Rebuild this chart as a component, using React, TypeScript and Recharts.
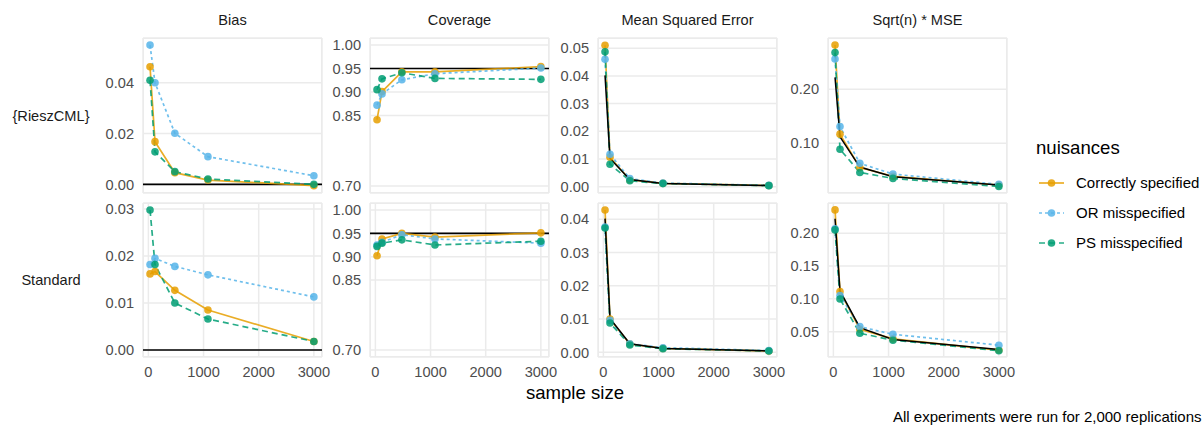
import { LineChart, Line, XAxis, YAxis, CartesianGrid, ReferenceLine } from "recharts";

const sampleSizes = [30, 120, 480, 1080, 3000];
const xTicks = [0, 1000, 2000, 3000];

// {RieszCML} row
const rieszBiasCorrect = [0.0463, 0.0168, 0.0046, 0.0017, -0.0005];
const rieszBiasOR = [0.0548, 0.04, 0.0201, 0.0109, 0.0034];
const rieszBiasPS = [0.041, 0.0128, 0.005, 0.0021, 0.0];
const rieszCovCorrect = [0.841, 0.901, 0.943, 0.943, 0.954];
const rieszCovOR = [0.872, 0.896, 0.926, 0.939, 0.951];
const rieszCovPS = [0.905, 0.928, 0.941, 0.929, 0.927];
const rieszMseCorrect = [0.0511, 0.0106, 0.0025, 0.0012, 0.0004];
const rieszMseOR = [0.046, 0.0117, 0.0029, 0.0013, 0.00044];
const rieszMsePS = [0.0487, 0.0081, 0.0021, 0.0011, 0.00035];
const rieszRootCorrect = [0.282, 0.117, 0.055, 0.039, 0.0228];
const rieszRootOR = [0.256, 0.131, 0.063, 0.043, 0.024];
const rieszRootPS = [0.268, 0.089, 0.046, 0.035, 0.02];

// Standard row
const stdBiasCorrect = [0.0162, 0.0167, 0.0127, 0.0085, 0.0018];
const stdBiasOR = [0.0182, 0.0195, 0.0178, 0.016, 0.0113];
const stdBiasPS = [0.0298, 0.0182, 0.01, 0.0066, 0.0018];
const stdCovCorrect = [0.902, 0.938, 0.95, 0.942, 0.951];
const stdCovOR = [0.925, 0.931, 0.947, 0.938, 0.929];
const stdCovPS = [0.922, 0.929, 0.936, 0.925, 0.933];
const stdMseCorrect = [0.0428, 0.01, 0.0025, 0.0012, 0.0004];
const stdMseOR = [0.0377, 0.0096, 0.0026, 0.0014, 0.00054];
const stdMsePS = [0.0374, 0.0088, 0.0022, 0.0011, 0.0004];
const stdRootCorrect = [0.2355, 0.111, 0.0537, 0.039, 0.022];
const stdRootOR = [0.2066, 0.105, 0.0576, 0.046, 0.0294];
const stdRootPS = [0.205, 0.0997, 0.0476, 0.037, 0.021];

// black reference curves
const mseBound = [0.0402, 0.0102, 0.0026, 0.00116, 0.00042];
const rootBound = [0.222, 0.112, 0.056, 0.038, 0.023];

const metricTitles = ["Bias", "Coverage", "Mean Squared Error", "Sqrt(n) * MSE"];
const rowTitles = ["{RieszCML}", "Standard"];

const series = [
  { key: "correct", name: "Correctly specified", color: "#E69F00", dash: undefined as string | undefined },
  { key: "or", name: "OR misspecified", color: "#56B4E9", dash: "3 3" },
  { key: "ps", name: "PS misspecified", color: "#009E73", dash: "6 4" },
];

const FONT = '"Liberation Sans", Arial, sans-serif';
const AXW = 60;
const PW = 179;
const RPAD = 24;
const VPAD = 12;
const colLeft = [143, 370, 598, 828];
const rowTop = [38, 203];
const rowH = [155, 154];

type PanelProps = {
  col: number;
  row: number;
  correct: number[];
  or: number[];
  ps: number[];
  bound?: number[];
  hline?: number;
  domain: [number, number];
  ticks: number[];
};

function Panel({ col, row, correct, or, ps, bound, hline, domain, ticks }: PanelProps) {
  const data = sampleSizes.map((n, i) => ({
    n,
    correct: correct[i],
    or: or[i],
    ps: ps[i],
    bound: bound ? bound[i] : null,
  }));
  const showX = row === 1;
  const xH = showX ? 30 : 0;
  const left = colLeft[col];
  const top = rowTop[row];
  const h = rowH[row];
  return (
    <>
      <div
        style={{
          position: "absolute",
          left,
          top,
          width: PW,
          height: h,
          boxSizing: "border-box",
          border: "1.5px solid #ebebeb",
        }}
      />
      <div style={{ position: "absolute", left: left - AXW, top: top - VPAD }}>
        <LineChart
          width={AXW + PW + RPAD}
          height={h + xH + VPAD * 2}
          data={data}
          margin={{ top: VPAD, right: RPAD, bottom: VPAD, left: 0 }}
        >
          <CartesianGrid stroke="#ebebeb" strokeWidth={1.5} />
          <XAxis
            dataKey="n"
            type="number"
            domain={[-97.5, 3147.5]}
            ticks={xTicks}
            interval={0}
            allowDataOverflow
            height={xH}
            axisLine={false}
            tickLine={false}
            tick={showX ? { fill: "#4d4d4d", fontSize: 14.6, fontFamily: FONT } : false}
            tickMargin={4}
          />
          <YAxis
            type="number"
            domain={domain}
            ticks={ticks}
            interval={0}
            allowDataOverflow
            width={AXW}
            axisLine={false}
            tickLine={false}
            tickMargin={3}
            tick={{ fill: "#4d4d4d", fontSize: 14.6, fontFamily: FONT }}
            tickFormatter={(v: number) => v.toFixed(2)}
          />
          {hline !== undefined && <ReferenceLine y={hline} stroke="#000" strokeWidth={1.6} />}
          {series.map((s) => (
            <Line
              key={s.key + "-line"}
              dataKey={s.key}
              stroke={s.color}
              strokeOpacity={0.85}
              strokeWidth={1.7}
              strokeDasharray={s.dash}
              dot={false}
              activeDot={false}
              isAnimationActive={false}
            />
          ))}
          {bound && (
            <Line
              dataKey="bound"
              stroke="#000"
              strokeWidth={1.5}
              dot={false}
              activeDot={false}
              isAnimationActive={false}
            />
          )}
          {series.map((s) => (
            <Line
              key={s.key + "-dots"}
              dataKey={s.key}
              stroke="none"
              dot={{ r: 3.8, fill: s.color, fillOpacity: 0.85, stroke: "none" }}
              activeDot={false}
              isAnimationActive={false}
            />
          ))}
        </LineChart>
      </div>
    </>
  );
}

export default function App() {
  const covTicks = [0.7, 0.85, 0.9, 0.95, 1.0];
  return (
    <div
      style={{
        position: "absolute",
        left: 0,
        top: 0,
        width: 1203,
        height: 425,
        overflow: "hidden",
        background: "#fff",
        fontFamily: FONT,
      }}
    >
      {metricTitles.map((t, i) => (
        <div
          key={t}
          style={{
            position: "absolute",
            left: colLeft[i],
            width: PW,
            top: 10,
            textAlign: "center",
            fontSize: 14.6,
            color: "#1a1a1a",
            lineHeight: "20px",
          }}
        >
          {t}
        </div>
      ))}
      {rowTitles.map((t, i) => (
        <div
          key={t}
          style={{
            position: "absolute",
            left: 0,
            width: 102,
            top: rowTop[i] + rowH[i] / 2 - 10,
            textAlign: "center",
            fontSize: 14.6,
            color: "#1a1a1a",
            lineHeight: "20px",
          }}
        >
          {t}
        </div>
      ))}

      <Panel col={0} row={0} correct={rieszBiasCorrect} or={rieszBiasOR} ps={rieszBiasPS} hline={0}
        domain={[-0.0034, 0.0576]} ticks={[0, 0.02, 0.04]} />
      <Panel col={1} row={0} correct={rieszCovCorrect} or={rieszCovOR} ps={rieszCovPS} hline={0.95}
        domain={[0.685, 1.015]} ticks={covTicks} />
      <Panel col={2} row={0} correct={rieszMseCorrect} or={rieszMseOR} ps={rieszMsePS} bound={mseBound}
        domain={[-0.0023, 0.0537]} ticks={[0, 0.01, 0.02, 0.03, 0.04, 0.05]} />
      <Panel col={3} row={0} correct={rieszRootCorrect} or={rieszRootOR} ps={rieszRootPS} bound={rootBound}
        domain={[0.008, 0.295]} ticks={[0.1, 0.2]} />

      <Panel col={0} row={1} correct={stdBiasCorrect} or={stdBiasOR} ps={stdBiasPS} hline={0}
        domain={[-0.0015, 0.0313]} ticks={[0, 0.01, 0.02, 0.03]} />
      <Panel col={1} row={1} correct={stdCovCorrect} or={stdCovOR} ps={stdCovPS} hline={0.95}
        domain={[0.685, 1.015]} ticks={covTicks} />
      <Panel col={2} row={1} correct={stdMseCorrect} or={stdMseOR} ps={stdMsePS} bound={mseBound}
        domain={[-0.0014, 0.0449]} ticks={[0, 0.01, 0.02, 0.03, 0.04]} />
      <Panel col={3} row={1} correct={stdRootCorrect} or={stdRootOR} ps={stdRootPS} bound={rootBound}
        domain={[0.0114, 0.246]} ticks={[0.05, 0.1, 0.15, 0.2]} />

      <div
        style={{
          position: "absolute",
          left: 475,
          width: 200,
          top: 381,
          textAlign: "center",
          fontSize: 18.6,
          color: "#000",
          lineHeight: "24px",
        }}
      >
        sample size
      </div>

      <div style={{ position: "absolute", left: 1036, top: 136, fontSize: 18.6, lineHeight: "24px", color: "#000" }}>
        nuisances
      </div>
      {series.map((s, i) => (
        <div key={s.key} style={{ position: "absolute", left: 1039, top: 172 + i * 30, height: 22, width: 170 }}>
          <svg width={26} height={22} style={{ position: "absolute", left: 0, top: 0 }}>
            <line x1={0} y1={11} x2={25} y2={11} stroke={s.color} strokeOpacity={0.85} strokeWidth={1.7}
              strokeDasharray={s.dash} />
            <circle cx={12.5} cy={11} r={3.8} fill={s.color} fillOpacity={0.85} />
          </svg>
          <div style={{ position: "absolute", left: 37, top: 1, fontSize: 15, lineHeight: "20px", color: "#000", whiteSpace: "nowrap" }}>
            {s.name}
          </div>
        </div>
      ))}

      <div style={{ position: "absolute", left: 893, top: 409, fontSize: 15, lineHeight: "16px", color: "#000", whiteSpace: "nowrap" }}>
        All experiments were run for 2,000 replications
      </div>
    </div>
  );
}
